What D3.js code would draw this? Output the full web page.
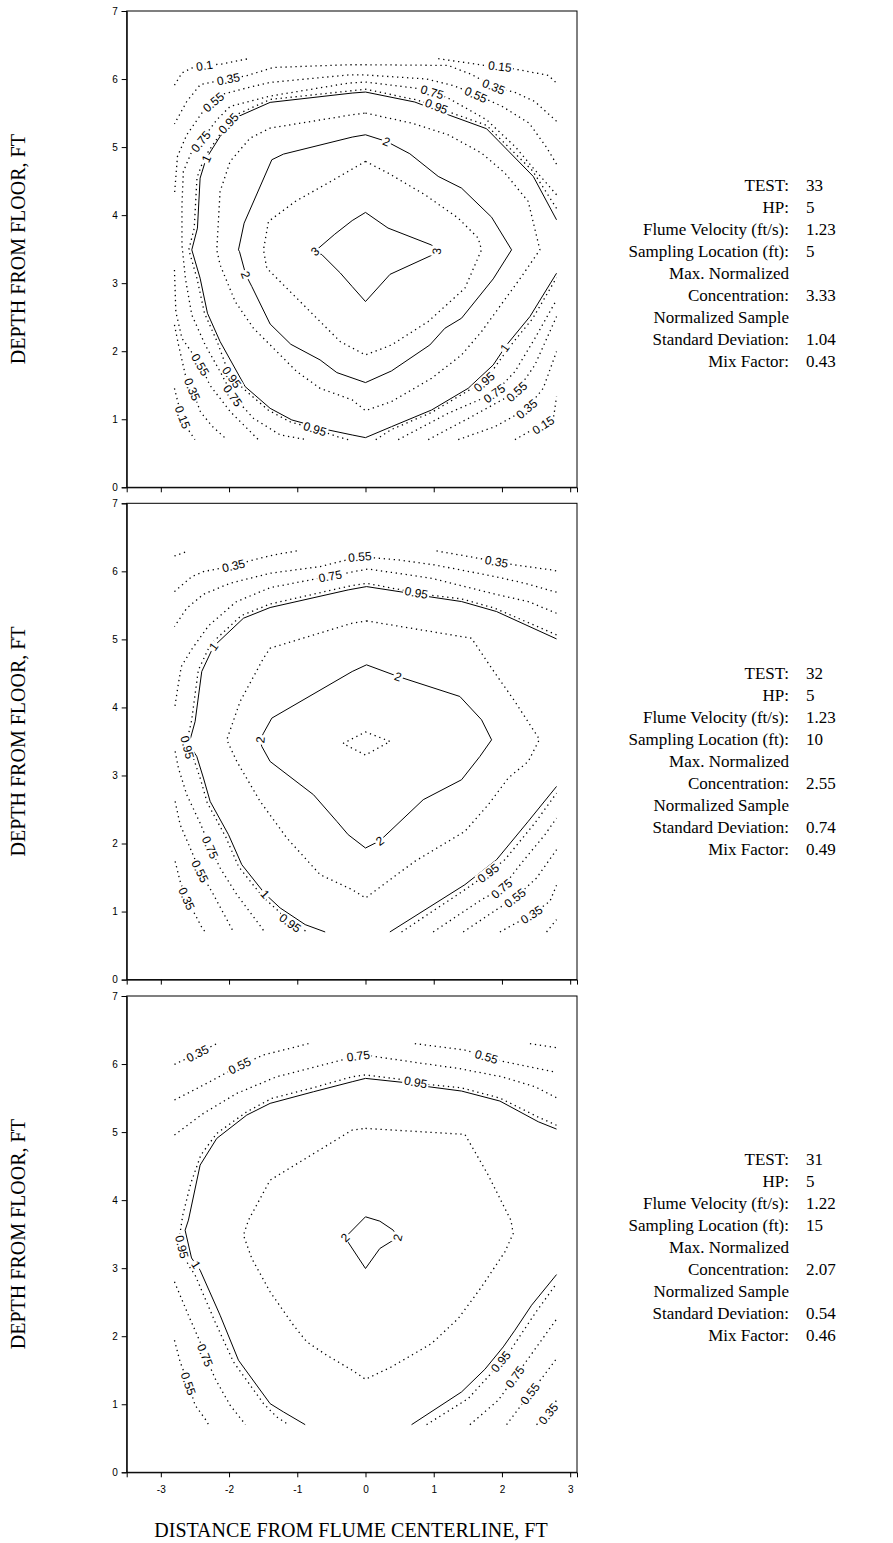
<!DOCTYPE html>
<html>
<head>
<meta charset="utf-8">
<script src="https://cdn.jsdelivr.net/npm/d3@7"></script>
<style>
  body { margin: 0; background: #fff; }
  svg { display: block; }
</style>
</head>
<body>
<svg id="chart" width="893" height="1543"></svg>
<script>
// ---- axis ticks ----
const xTicks = [-3, -2, -1, 0, 1, 2, 3];
const yTicks = [0, 1, 2, 3, 4, 5, 6, 7];

// ---- run summaries ----
const infoFields = ["TEST:", "HP:", "Flume Velocity (ft/s):", "Sampling Location (ft):",
  "Max. Normalized", "Concentration:", "Normalized Sample", "Standard Deviation:", "Mix Factor:"];
const test33Info = ["33", "5", "1.23", "5", "", "3.33", "", "1.04", "0.43"];
const test32Info = ["32", "5", "1.23", "10", "", "2.55", "", "0.74", "0.49"];
const test31Info = ["31", "5", "1.22", "15", "", "2.07", "", "0.54", "0.46"];

// ---- TEST 33 contour lines: [x ft, depth ft] ----
const t33_c3 = [[-0.74,3.47],[-0.45,3.72],[-0.195,3.92],[0,4.04],[0.33,3.81],[0.97,3.56],[1.04,3.47],[0.97,3.41],[0.36,3.13],[0,2.73],[-0.195,2.95],[-0.37,3.15],[-0.64,3.42],[-0.74,3.47]];
const t33_c25 = [[0,4.79],[0.333,4.617],[0.87,4.3],[1.359,3.956],[1.652,3.662],[1.70,3.49],[1.457,2.926],[0.919,2.436],[0.381,2.092],[0,1.945],[-0.371,2.142],[-0.665,2.436],[-1.007,2.779],[-1.447,3.22],[-1.495,3.49],[-1.422,3.907],[-1.03,4.201],[-0.5,4.5],[0,4.79]];
const t33_c2 = [[0,5.181],[0.308,5.083],[0.65,4.902],[1.066,4.569],[1.408,4.397],[1.848,3.97],[2.141,3.49],[1.872,3.063],[1.408,2.485],[1.163,2.337],[0.943,2.092],[0.381,1.71],[0,1.539],[-0.42,1.686],[-0.665,1.872],[-1.095,2.102],[-1.398,2.4],[-1.666,2.95],[-1.754,3.122],[-1.847,3.465],[-1.862,3.49],[-1.779,3.882],[-1.373,4.814],[-1.202,4.897],[-0.195,5.147],[0,5.181]];
const t33_c15 = [[0,5.5],[0.675,5.353],[1.212,5.181],[1.701,4.912],[2.043,4.618],[2.385,4.201],[2.556,3.49],[2.287,3.097],[1.701,2.289],[1.408,1.945],[0.968,1.602],[0.381,1.259],[0,1.127],[-0.195,1.284],[-0.665,1.455],[-1.007,1.7],[-1.398,2.093],[-1.642,2.338],[-1.91,2.73],[-2.131,3.269],[-2.18,3.49],[-2.131,4.348],[-1.984,4.789],[-1.691,5.132],[-1.398,5.279],[-0.195,5.475],[0,5.5]];
const t33_c1 = [[2.8,3.931],[2.459,4.569],[1.774,5.27],[1.212,5.475],[0.723,5.662],[0,5.809],[-0.195,5.794],[-1.398,5.657],[-1.862,5.451],[-2.131,5.157],[-2.336,4.83],[-2.424,4.544],[-2.463,3.809],[-2.546,3.49],[-2.424,3.073],[-2.316,2.558],[-2.131,2.142],[-1.764,1.48],[-1.398,1.161],[-1.08,0.99],[-0.542,0.842],[-0.195,0.769],[0,0.73],[0.381,0.891],[0.968,1.136],[1.505,1.455],[1.872,1.798],[2.068,2.092],[2.41,2.509],[2.8,3.146]];
const t33_c095a = [[2.8,4.1],[2.45,4.65],[1.774,5.32],[1.212,5.52],[1.041,5.60],[0.723,5.70],[0,5.85],[-1.398,5.70],[-1.862,5.49],[-2.01,5.35],[-2.131,5.19],[-2.36,4.85],[-2.47,4.55],[-2.51,3.81],[-2.59,3.49],[-2.47,3.07],[-2.36,2.56],[-2.17,2.13],[-2.05,1.8],[-1.96,1.62],[-1.79,1.45],[-1.42,1.13],[-1.1,0.96],[-0.74,0.86],[-0.4,0.74],[-0.25,0.7]];
const t33_c095b = [[0.15,0.7],[0.381,0.85],[0.968,1.10],[1.505,1.42],[1.74,1.55],[1.9,1.77],[2.1,2.05],[2.45,2.48],[2.8,3.08]];
const t33_c075a = [[2.8,4.3],[2.459,4.691],[2.2,5.0],[1.774,5.402],[1.212,5.72],[0.978,5.81],[0.723,5.868],[0,5.956],[-0.25,5.94],[-1.398,5.75],[-1.984,5.598],[-2.18,5.40],[-2.414,5.083],[-2.546,4.936],[-2.67,4.64],[-2.69,4.15],[-2.69,3.56],[-2.64,3.073],[-2.546,2.534],[-2.35,2.093],[-2.13,1.7],[-1.945,1.347],[-1.642,1.014],[-1.25,0.77],[-0.86,0.7]];
const t33_c075b = [[0.479,0.7],[1.212,1.088],[1.887,1.38],[2.19,1.7],[2.483,2.19],[2.8,2.754]];
const t33_c055a = [[2.8,4.75],[2.65,5.0],[2.4,5.35],[2.0,5.6],[1.618,5.77],[1.3,5.9],[0.9,6.0],[0,6.06],[-0.25,6.06],[-1.4,5.95],[-1.74,5.87],[-2.08,5.78],[-2.23,5.66],[-2.375,5.534],[-2.62,5.18],[-2.756,4.863],[-2.8,4.30]];
const t33_c055b = [[-2.8,3.195],[-2.78,2.58],[-2.69,2.19],[-2.42,1.8],[-2.28,1.5],[-1.98,1.11],[-1.57,0.7]];
const t33_c055c = [[0.919,0.7],[1.554,1.038],[2.043,1.308],[2.214,1.406],[2.483,1.798],[2.8,2.509]];
const t33_c035a = [[2.8,5.38],[2.48,5.67],[2.2,5.8],[1.88,5.89],[1.55,6.07],[1.21,6.2],[0,6.21],[-0.25,6.21],[-1.35,6.17],[-1.74,6.05],[-2.01,6.0],[-2.42,5.92],[-2.62,5.67],[-2.8,5.34]];
const t33_c035b = [[-2.8,2.387],[-2.74,2.09],[-2.64,1.65],[-2.54,1.44],[-2.42,1.11],[-2.25,0.9],[-2.03,0.7]];
const t33_c035c = [[1.359,0.7],[1.897,0.891],[2.361,1.151],[2.605,1.455],[2.8,1.995]];
const t33_c015a = [[1.066,6.3],[1.774,6.196],[1.97,6.186],[2.19,6.147],[2.679,6.054],[2.8,5.941]];
const t33_c015b = [[-2.8,1.455],[-2.75,1.25],[-2.68,1.03],[-2.6,0.85],[-2.5,0.7]];
const t33_c015c = [[2.19,0.7],[2.4,0.82],[2.605,0.916],[2.76,1.05],[2.8,1.333]];
const t33_c01 = [[-2.8,5.91],[-2.69,6.09],[-2.55,6.16],[-2.36,6.2],[-2.11,6.22],[-1.71,6.3]];

// ---- TEST 32 contour lines ----
const t32_c25 = [[-0.33,3.47],[0,3.64],[0.36,3.5],[0,3.3],[-0.33,3.47]];
const t32_c2 = [[0.015,4.626],[0.479,4.454],[1.383,4.161],[1.701,3.818],[1.848,3.524],[1.677,3.28],[1.408,2.937],[0.846,2.644],[0.21,2.04],[0,1.934],[-0.254,2.13],[-0.42,2.325],[-0.762,2.717],[-1.398,3.206],[-1.52,3.427],[-1.544,3.525],[-1.495,3.622],[-1.373,3.843],[-0.195,4.528],[0.015,4.626]];
const t32_c15 = [[0.015,5.272],[1.554,5.017],[1.848,4.577],[2.19,4.087],[2.55,3.53],[2.385,3.206],[2.092,2.962],[1.799,2.57],[1.457,2.179],[0.723,1.738],[0,1.2],[-0.195,1.322],[-0.665,1.542],[-1.153,2.081],[-1.544,2.619],[-1.886,3.206],[-2.033,3.524],[-1.838,4.087],[-1.495,4.724],[-1.398,4.87],[-0.195,5.238],[0.015,5.272]];
const t32_c1a = [[2.8,5.007],[1.921,5.409],[1.408,5.556],[0.919,5.629],[0.552,5.693],[0.015,5.776],[-0.254,5.727],[-1.398,5.468],[-1.789,5.311],[-2.228,4.895],[-2.4,4.528],[-2.497,3.794],[-2.571,3.524],[-2.55,3.40],[-2.473,3.28],[-2.375,2.962],[-2.277,2.619],[-2.008,2.13],[-1.813,1.689],[-1.471,1.258],[-1.251,1.053],[-0.884,0.808],[-0.591,0.7]];
const t32_c1b = [[0.357,0.7],[1.457,1.395],[1.921,1.762],[2.385,2.325],[2.8,2.839]];
const t32_c095a = [[2.8,5.066],[1.897,5.458],[1.408,5.595],[0.919,5.654],[0.528,5.727],[0.015,5.825],[-0.254,5.78],[-1.398,5.52],[-1.82,5.35],[-2.27,4.93],[-2.45,4.55],[-2.55,3.8],[-2.63,3.45],[-2.52,3.25],[-2.42,2.95],[-2.32,2.6],[-2.05,2.1],[-1.86,1.66],[-1.51,1.22],[-1.29,1.02],[-1.1,0.83],[-0.85,0.7]];
const t32_c095b = [[0.528,0.7],[1.481,1.337],[1.799,1.567],[2.043,1.763],[2.483,2.301],[2.8,2.741]];
const t32_c075a = [[2.8,5.384],[2.385,5.556],[1.945,5.654],[0.968,5.898],[0.039,6.035],[-0.518,5.93],[-1.398,5.76],[-1.9,5.55],[-2.3,5.2],[-2.55,4.85],[-2.7,4.6],[-2.75,4.3],[-2.8,3.97]];
const t32_c075b = [[-2.79,3.353],[-2.742,3.109],[-2.62,2.717],[-2.424,2.301],[-2.277,1.944],[-2.131,1.64],[-1.886,1.248],[-1.52,0.759],[-1.48,0.7]];
const t32_c075c = [[0.992,0.7],[1.701,1.175],[1.994,1.337],[2.287,1.714],[2.63,2.13],[2.8,2.374]];
const t32_c055a = [[2.8,5.693],[2.336,5.825],[1.897,5.923],[1.017,6.094],[0.479,6.168],[-0.083,6.216],[-0.665,6.07],[-1.398,5.972],[-1.984,5.825],[-2.375,5.663],[-2.62,5.458],[-2.8,5.189]];
const t32_c055b = [[-2.79,2.619],[-2.717,2.277],[-2.57,1.934],[-2.424,1.591],[-2.228,1.249],[-1.935,0.7]];
const t32_c055c = [[1.432,0.7],[1.921,1.028],[2.19,1.2],[2.507,1.493],[2.8,1.909]];
const t32_c035a = [[-2.8,5.702],[-2.546,5.923],[-2.375,5.996],[-1.935,6.084],[-1.642,6.168],[-1.349,6.241],[-1.007,6.3]];
const t32_c035b = [[1.041,6.3],[1.5,6.22],[1.921,6.143],[2.19,6.094],[2.727,6.021],[2.8,6.006]];
const t32_c035c = [[-2.79,1.738],[-2.717,1.444],[-2.62,1.19],[-2.4,0.769],[-2.35,0.7]];
const t32_c035d = [[1.97,0.7],[2.434,0.955],[2.703,1.151],[2.8,1.386]];
const t32_c015a = [[-2.8,6.226],[-2.595,6.3]];
const t32_c015b = [[2.654,0.7],[2.8,0.882]];

// ---- TEST 31 contour lines ----
const t31_c2 = [[-0.3,3.45],[0,3.755],[0.21,3.691],[0.406,3.559],[0.47,3.45],[0.21,3.289],[0,2.995],[-0.3,3.45]];
const t31_c15 = [[0,5.054],[1.457,4.966],[1.603,4.711],[1.799,4.368],[2.043,3.878],[2.131,3.706],[2.165,3.509],[2.043,3.24],[1.701,2.725],[1.359,2.259],[0.968,1.892],[0.381,1.549],[0,1.367],[-0.195,1.5],[-0.567,1.72],[-0.86,1.916],[-1.056,2.161],[-1.398,2.652],[-1.666,3.142],[-1.789,3.485],[-1.715,3.706],[-1.398,4.294],[-0.195,5.03],[0,5.054]];
const t31_c1a = [[2.8,5.044],[2.532,5.152],[1.97,5.456],[1.408,5.603],[0.919,5.667],[0.552,5.73],[0,5.789],[-0.195,5.74],[-0.762,5.593],[-1.398,5.422],[-1.74,5.25],[-2.18,4.907],[-2.424,4.515],[-2.595,3.706],[-2.644,3.558],[-2.55,3.15],[-2.424,2.97],[-2.131,2.308],[-1.862,1.647],[-1.398,1.009],[-1.202,0.887],[-0.884,0.7]];
const t31_c1b = [[0.675,0.7],[1.408,1.181],[1.75,1.514],[2.019,1.843],[2.19,2.088],[2.434,2.455],[2.8,2.906]];
const t31_c095a = [[2.8,5.1],[2.532,5.22],[1.97,5.5],[1.408,5.65],[0.919,5.7],[0.552,5.77],[0,5.84],[-0.195,5.814],[-0.762,5.652],[-1.373,5.495],[-1.74,5.299],[-2.18,4.98],[-2.414,4.662],[-2.561,4.245],[-2.678,3.78],[-2.72,3.5],[-2.69,3.31],[-2.6,3.05],[-2.497,2.897],[-2.204,2.21],[-1.935,1.622],[-1.495,1.009],[-1.3,0.813],[-1.13,0.7]];
const t31_c095b = [[0.895,0.7],[1.505,1.083],[1.82,1.43],[2.0,1.65],[2.141,1.818],[2.483,2.333],[2.8,2.774]];
const t31_c075a = [[-2.8,4.956],[-2.375,5.275],[-1.886,5.569],[-1.3,5.814],[-0.665,5.976],[-0.107,6.12],[0.088,6.118],[0.723,6.025],[1.359,5.936],[1.994,5.814],[2.483,5.667],[2.8,5.505]];
const t31_c075b = [[-2.8,2.799],[-2.595,2.308],[-2.424,1.916],[-2.35,1.72],[-2.204,1.377],[-1.984,0.985],[-1.798,0.75],[-1.76,0.7]];
const t31_c075c = [[1.53,0.7],[1.945,1.058],[2.19,1.402],[2.385,1.671],[2.8,2.25]];
const t31_c055a = [[-2.8,5.471],[-2.375,5.691],[-1.847,5.976],[-1.495,6.133],[-0.836,6.3]];
const t31_c055b = [[0.723,6.3],[1.457,6.206],[1.774,6.108],[1.994,6.044],[2.8,5.878]];
const t31_c055c = [[-2.8,1.941],[-2.717,1.622],[-2.595,1.303],[-2.497,0.985],[-2.336,0.764],[-2.3,0.7]];
const t31_c055d = [[2.068,0.7],[2.41,1.157],[2.654,1.475],[2.8,1.671]];
const t31_c035a = [[-2.8,5.995],[-2.463,6.157],[-2.18,6.3]];
const t31_c035b = [[2.41,6.3],[2.8,6.24]];
const t31_c035c = [[2.507,0.7],[2.679,0.862],[2.8,1.059]];

// ---- contour label anchors: [text, x ft, depth ft] ----
const t33Labels = [["0.1",-2.36,6.2],["0.35",-2.01,6.0],["0.55",-2.23,5.66],["0.75",-2.414,5.083],["0.95",-2.01,5.35],["1",-2.336,4.83],
  ["0.15",1.97,6.186],["0.35",1.88,5.89],["0.55",1.618,5.77],["0.75",0.978,5.81],["0.95",1.041,5.6],
  ["2",0.308,5.083],["2",-1.754,3.122],["3",-0.74,3.47],["3",1.04,3.47],
  ["0.55",-2.42,1.8],["0.35",-2.54,1.44],["0.15",-2.68,1.03],["0.95",-1.96,1.62],["0.75",-1.945,1.347],["0.95",-0.74,0.86],
  ["0.95",1.74,1.55],["0.75",1.887,1.38],["0.55",2.214,1.406],["0.35",2.361,1.151],["0.15",2.605,0.916],["1",2.043,2.05]];
const t32Labels = [["0.35",-1.935,6.084],["0.55",-0.083,6.216],["0.75",-0.518,5.93],["0.95",0.748,5.70],["0.35",1.921,6.143],
  ["1",-2.228,4.895],["0.95",-2.62,3.41],["0.75",-2.277,1.944],["0.55",-2.424,1.591],["0.35",-2.62,1.19],["1",-1.471,1.258],["0.95",-1.104,0.833],
  ["0.95",1.799,1.567],["0.75",1.994,1.337],["0.55",2.19,1.2],["0.35",2.434,0.955],
  ["2",0.479,4.454],["2",-1.544,3.525],["2",0.21,2.04]];
const t31Labels = [["0.35",-2.463,6.157],["0.55",-1.847,5.976],["0.75",-0.107,6.12],["0.55",1.774,6.108],["0.95",0.738,5.75],
  ["0.95",-2.693,3.313],["1",-2.473,3.054],["0.75",-2.35,1.72],["0.55",-2.595,1.303],
  ["0.95",1.98,1.63],["0.75",2.19,1.402],["0.55",2.41,1.157],["0.35",2.679,0.862],["2",-0.3,3.45],["2",0.47,3.45]];

const t33Lines = [[3,t33_c3],[2.5,t33_c25],[2,t33_c2],[1.5,t33_c15],[1,t33_c1],[0.95,t33_c095a],[0.95,t33_c095b],
  [0.75,t33_c075a],[0.75,t33_c075b],[0.55,t33_c055a],[0.55,t33_c055b],[0.55,t33_c055c],
  [0.35,t33_c035a],[0.35,t33_c035b],[0.35,t33_c035c],[0.15,t33_c015a],[0.15,t33_c015b],[0.15,t33_c015c],[0.1,t33_c01]];
const t32Lines = [[2.5,t32_c25],[2,t32_c2],[1.5,t32_c15],[1,t32_c1a],[1,t32_c1b],[0.95,t32_c095a],[0.95,t32_c095b],
  [0.75,t32_c075a],[0.75,t32_c075b],[0.75,t32_c075c],[0.55,t32_c055a],[0.55,t32_c055b],[0.55,t32_c055c],
  [0.35,t32_c035a],[0.35,t32_c035b],[0.35,t32_c035c],[0.35,t32_c035d],[0.15,t32_c015a],[0.15,t32_c015b]];
const t31Lines = [[2,t31_c2],[1.5,t31_c15],[1,t31_c1a],[1,t31_c1b],[0.95,t31_c095a],[0.95,t31_c095b],
  [0.75,t31_c075a],[0.75,t31_c075b],[0.75,t31_c075c],[0.55,t31_c055a],[0.55,t31_c055b],[0.55,t31_c055c],[0.55,t31_c055d],
  [0.35,t31_c035a],[0.35,t31_c035b],[0.35,t31_c035c]];

const panels = [
  { lines: t33Lines, labels: t33Labels, info: test33Info },
  { lines: t32Lines, labels: t32Labels, info: test32Info },
  { lines: t31Lines, labels: t31Labels, info: test31Info }
];
const solidLevels = [1, 2, 3];

// ---- layout ----
const svg = d3.select("#chart");
const plotLeft = 126.7, plotRight = 577;
const panelTops = [11, 503.3, 996];
const panelH = 476.3;
const infoTops = [191, 679, 1165];   // baseline of the first summary row per panel
const serif = "'Liberation Serif','Times New Roman',serif";
const sans = "'Liberation Sans',Arial,sans-serif";

const x = d3.scaleLinear().domain([-3.5, 3.1]).range([plotLeft, plotRight]);

function walk(pts) {
  const cum = [0];
  for (let i = 1; i < pts.length; i++)
    cum.push(cum[i - 1] + Math.hypot(pts[i][0] - pts[i - 1][0], pts[i][1] - pts[i - 1][1]));
  return cum;
}
function pointAt(pts, cum, s) {
  s = Math.max(0, Math.min(cum[cum.length - 1], s));
  for (let i = 1; i < pts.length; i++) {
    if (cum[i] >= s) {
      const L = cum[i] - cum[i - 1] || 1, t = (s - cum[i - 1]) / L;
      return [pts[i - 1][0] + t * (pts[i][0] - pts[i - 1][0]), pts[i - 1][1] + t * (pts[i][1] - pts[i - 1][1])];
    }
  }
  return pts[pts.length - 1];
}
function nearest(pts, cum, p) {
  let best = { d: Infinity };
  for (let i = 1; i < pts.length; i++) {
    const [x1, y1] = pts[i - 1], [x2, y2] = pts[i];
    const dx = x2 - x1, dy = y2 - y1, L2 = dx * dx + dy * dy || 1;
    let t = ((p[0] - x1) * dx + (p[1] - y1) * dy) / L2;
    t = Math.max(0, Math.min(1, t));
    const qx = x1 + t * dx, qy = y1 + t * dy, d = Math.hypot(p[0] - qx, p[1] - qy);
    if (d < best.d) best = { d, x: qx, y: qy, s: cum[i - 1] + t * Math.sqrt(L2) };
  }
  return best;
}

panels.forEach((panel, pi) => {
  const top = panelTops[pi], bottom = top + panelH;
  const y = d3.scaleLinear().domain([0, 7]).range([bottom, top]);
  const g = svg.append("g");
  const isLast = pi === panels.length - 1;

  // frame
  g.append("rect").attr("x", plotLeft).attr("y", top)
    .attr("width", plotRight - plotLeft).attr("height", panelH)
    .attr("fill", "none").attr("stroke", "#000").attr("stroke-width", 1);

  // axes
  const ya = g.append("g").attr("transform", `translate(${plotLeft},0)`)
    .call(d3.axisLeft(y).tickValues(yTicks).tickSize(5).tickPadding(4).tickFormat(d3.format("d")));
  const xa = g.append("g").attr("transform", `translate(0,${bottom})`)
    .call(d3.axisBottom(x).tickValues(xTicks).tickSize(5).tickPadding(9)
      .tickFormat(d => isLast ? (d < 0 ? "-" + Math.abs(d) : String(d)) : ""));
  [ya, xa].forEach(a => {
    a.select(".domain").attr("stroke", "#000");
    a.selectAll(".tick line").attr("stroke", "#000");
    a.selectAll(".tick text").attr("font-family", sans).attr("font-size", 10).attr("fill", "#000");
  });

  // contour lines
  const line = d3.line().x(d => x(d[0])).y(d => y(d[1]));
  const pix = panel.lines.map(([lev, pts]) => {
    const pp = pts.map(d => [x(d[0]), y(d[1])]);
    return { lev, pp, cum: walk(pp) };
  });
  g.selectAll("path.contour").data(panel.lines).join("path")
    .attr("class", "contour")
    .attr("d", d => line(d[1]))
    .attr("fill", "none")
    .attr("stroke", "#000")
    .attr("stroke-width", d => solidLevels.includes(d[0]) ? 1 : 1.3)
    .attr("stroke-dasharray", d => solidLevels.includes(d[0]) ? null : "1.3,3.7");

  // contour labels, rotated along their line
  panel.labels.forEach(([txt, lx, ly]) => {
    const lev = +txt, p = [x(lx), y(ly)];
    let best = null, bl = null;
    pix.filter(l => l.lev === lev).forEach(l => {
      const n = nearest(l.pp, l.cum, p);
      if (!best || n.d < best.d) { best = n; bl = l; }
    });
    const a = pointAt(bl.pp, bl.cum, best.s - 9), b = pointAt(bl.pp, bl.cum, best.s + 9);
    let ang = Math.atan2(b[1] - a[1], b[0] - a[0]) * 180 / Math.PI;
    if (ang > 90) ang -= 180;
    if (ang < -90) ang += 180;
    const lg = g.append("g").attr("transform", `translate(${best.x},${best.y}) rotate(${ang})`);
    const t = lg.append("text").attr("text-anchor", "middle").attr("dy", "0.36em")
      .attr("font-family", sans).attr("font-size", 12).attr("fill", "#000").text(txt);
    const w = t.node().getComputedTextLength();
    lg.insert("rect", "text").attr("x", -w / 2 - 1.5).attr("y", -5.5)
      .attr("width", w + 3).attr("height", 11).attr("fill", "#fff");
  });

  // y-axis title
  svg.append("text")
    .attr("transform", `translate(25,${(top + bottom) / 2}) rotate(-90)`)
    .attr("text-anchor", "middle").attr("font-family", serif).attr("font-size", 20)
    .text("DEPTH FROM FLOOR, FT");

  // run summary
  const info = svg.append("g").attr("font-family", serif).attr("font-size", 17).attr("fill", "#000");
  infoFields.forEach((f, i) => {
    const by = infoTops[pi] + i * 22;
    info.append("text").attr("x", 789).attr("y", by).attr("text-anchor", "end").text(f);
    if (panel.info[i]) info.append("text").attr("x", 806).attr("y", by).text(panel.info[i]);
  });
});

svg.append("text").attr("x", 351).attr("y", 1537).attr("text-anchor", "middle")
  .attr("font-family", serif).attr("font-size", 20)
  .text("DISTANCE FROM FLUME CENTERLINE, FT");
</script>
</body>
</html>
